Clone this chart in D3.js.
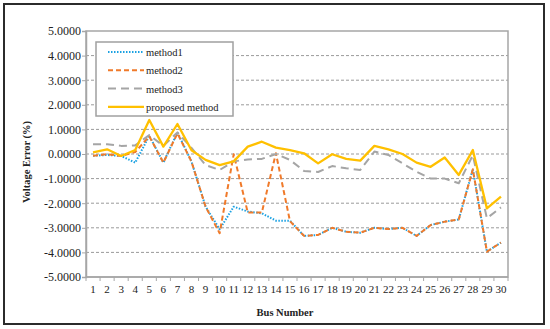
<!DOCTYPE html>
<html>
<head>
<meta charset="utf-8">
<script src="https://cdn.jsdelivr.net/npm/d3@7"></script>
<style>
  body { margin: 0; background: #fff; }
</style>
</head>
<body>
<div id="chart"></div>
<script>
var buses = d3.range(1, 31).map(String);
var yTicks = [5, 4, 3, 2, 1, 0, -1, -2, -3, -4, -5];

var method1 = [-0.07, -0.04, -0.08, -0.35, 0.74, -0.35, 0.88, -0.31, -2.14, -3.06,
               -2.14, -2.34, -2.41, -2.71, -2.71, -3.33, -3.29, -3.00, -3.16, -3.20,
               -3.00, -3.05, -3.00, -3.33, -2.89, -2.75, -2.66, -0.62, -3.97, -3.60];
var method2 = [-0.07, -0.01, -0.08, 0.08, 0.72, -0.35, 0.84, -0.31, -2.14, -3.22,
               -0.01, -2.38, -2.38, 0.03, -2.73, -3.33, -3.29, -3.00, -3.16, -3.20,
               -3.00, -3.05, -3.00, -3.33, -2.89, -2.75, -2.66, -0.62, -3.97, -3.60];
var method3 = [0.40, 0.40, 0.33, 0.35, 0.77, 0.33, 0.88, 0.25, -0.45, -0.65,
               -0.30, -0.22, -0.20, 0.00, -0.24, -0.69, -0.73, -0.49, -0.58, -0.65,
               0.10, -0.04, -0.38, -0.72, -1.00, -1.00, -1.19, -0.05, -2.61, -2.17];
var proposed = [0.07, 0.19, -0.08, 0.16, 1.38, 0.30, 1.22, 0.15, -0.24, -0.45,
                -0.30, 0.30, 0.50, 0.26, 0.16, 0.03, -0.38, -0.01, -0.20, -0.27,
                0.33, 0.19, 0.00, -0.35, -0.52, -0.14, -0.85, 0.16, -2.21, -1.73];

var series = [
  { name: "method1", values: method1, color: "#1BA1E2", width: 2, dash: "1.5,1.5" },
  { name: "method2", values: method2, color: "#F07A2A", width: 2, dash: "5,3" },
  { name: "method3", values: method3, color: "#A5A5A5", width: 2, dash: "8,5" },
  { name: "proposed method", values: proposed, color: "#FFC000", width: 2.3, dash: null }
];

var W = 550, H = 329;
var plotL = 86, plotR = 508, plotT = 31, plotB = 277;
var serif = "'Liberation Serif', 'Times New Roman', serif";

var svg = d3.select("#chart").append("svg").attr("width", W).attr("height", H);

// outer frame
svg.append("rect").attr("x", 4).attr("y", 4).attr("width", 540).attr("height", 320)
  .attr("fill", "#fff").attr("stroke", "#2b2b2b").attr("stroke-width", 2);

var x = d3.scaleBand().domain(buses).range([plotL, plotR]).padding(0);
var y = d3.scaleLinear().domain([-5, 5]).range([plotB, plotT]);

// grid lines
svg.append("g").selectAll("line").data(yTicks.filter(function(d) { return d != 5 && d != -5; }))
  .enter().append("line")
  .attr("x1", plotL).attr("x2", plotR)
  .attr("y1", function(d) { return y(d); }).attr("y2", function(d) { return y(d); })
  .attr("stroke", "#9a9a9a").attr("stroke-width", 1).attr("stroke-dasharray", "3,2");

// plot area border
svg.append("rect").attr("x", plotL).attr("y", plotT).attr("width", plotR - plotL).attr("height", plotB - plotT)
  .attr("fill", "none").attr("stroke", "#a6a6a6").attr("stroke-width", 1.5);

// y axis
var yAxis = d3.axisLeft(y).tickValues(yTicks).tickSize(4).tickPadding(1)
  .tickFormat(function(d) { return d.toFixed(4); });
var gy = svg.append("g").attr("transform", "translate(" + plotL + ",0)").call(yAxis);
gy.select(".domain").attr("stroke", "#a6a6a6").attr("stroke-width", 1.5);
gy.selectAll(".tick line").attr("stroke", "#a6a6a6");
gy.selectAll("text").attr("font-family", serif).attr("font-size", "12px").attr("fill", "#222");

// x axis: ticks on category boundaries
var gx = svg.append("g").attr("transform", "translate(0," + plotB + ")");
gx.append("line").attr("x1", plotL).attr("x2", plotR).attr("stroke", "#a6a6a6").attr("stroke-width", 1.5);
gx.selectAll("line.tk").data(d3.range(0, buses.length + 1)).enter().append("line")
  .attr("class", "tk")
  .attr("x1", function(i) { return plotL + i * x.step(); })
  .attr("x2", function(i) { return plotL + i * x.step(); })
  .attr("y1", 0).attr("y2", 4).attr("stroke", "#a6a6a6");
gx.selectAll("text").data(buses).enter().append("text")
  .attr("x", function(d) { return x(d) + x.bandwidth() / 2; })
  .attr("y", 16)
  .attr("text-anchor", "middle")
  .attr("font-family", serif).attr("font-size", "11px").attr("fill", "#222")
  .text(function(d) { return d; });

// lines
var line = d3.line()
  .x(function(d, i) { return x(buses[i]) + x.bandwidth() / 2; })
  .y(function(d) { return y(d); });

series.forEach(function(s) {
  svg.append("path").datum(s.values)
    .attr("d", line)
    .attr("fill", "none")
    .attr("stroke", s.color)
    .attr("stroke-width", s.width)
    .attr("stroke-dasharray", s.dash)
    .attr("stroke-linejoin", "round");
});

// legend
var lg = svg.append("g");
lg.append("rect").attr("x", 96).attr("y", 42).attr("width", 137).attr("height", 74)
  .attr("fill", "#fff").attr("stroke", "#a0a0a0").attr("stroke-width", 1.5);
series.forEach(function(s, i) {
  var ly = 52 + i * 18.3;
  lg.append("line").attr("x1", 108).attr("x2", 144).attr("y1", ly).attr("y2", ly)
    .attr("stroke", s.color).attr("stroke-width", s.width).attr("stroke-dasharray", s.dash);
  lg.append("text").attr("x", 146).attr("y", ly + 4)
    .attr("font-family", serif).attr("font-size", "10.5px").attr("fill", "#222")
    .text(s.name);
});

// axis titles
svg.append("text").attr("x", 285).attr("y", 316).attr("text-anchor", "middle")
  .attr("font-family", serif).attr("font-size", "10.5px").attr("font-weight", "bold").attr("fill", "#222")
  .text("Bus Number");
svg.append("text").attr("transform", "translate(30,162) rotate(-90)").attr("text-anchor", "middle")
  .attr("font-family", serif).attr("font-size", "10.5px").attr("font-weight", "bold").attr("fill", "#222")
  .text("Voltage Error (%)");
</script>
</body>
</html>
